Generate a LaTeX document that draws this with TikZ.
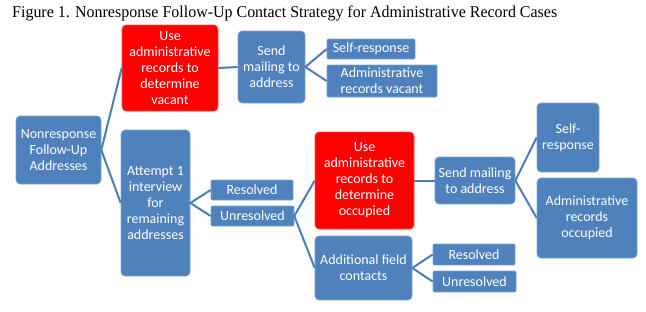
\documentclass[tikz,border=0pt]{standalone}
\usepackage{fontspec}
\usepackage{graphicx}
\usepackage{tikz}
\usetikzlibrary{positioning}
\newfontfamily\boxfont{Carlito}
\newfontfamily\capfont{Liberation Serif}
\definecolor{boxblue}{HTML}{4F81BD}
\definecolor{edgeblue}{HTML}{4A7EBB}
\definecolor{rimblue}{HTML}{7FA1CF}
\definecolor{recred}{HTML}{FF0000}

\begin{document}
\begin{tikzpicture}[x=1pt,y=-1pt,
  box/.style={fill=boxblue,draw=rimblue,line width=0.6pt,rounded corners=4pt,
    text=white,align=center,inner sep=0pt,
    font=\boxfont\fontsize{14}{16}\selectfont},
  bar/.style={box,rounded corners=1pt},
  redbox/.style={box,fill=recred,draw=recred!70!white},
  link/.style={draw=edgeblue,line width=2pt}]
  \useasboundingbox (0,0) rectangle (646,311);
  % title
  \node[anchor=base west,inner sep=0pt] (title) at (12,17)
    {\resizebox{545pt}{\height}{\capfont\fontsize{16.5}{18}\selectfont
     Figure 1. Nonresponse Follow-Up Contact Strategy for Administrative Record Cases}};
  % first level
  \node[box,minimum width=85pt,minimum height=68pt] (nrfu) at (58.5,150)
    {Nonresponse\\Follow-Up\\Addresses};
  % vacant branch
  \node[redbox,minimum width=96pt,minimum height=86pt] (vacrec) at (170,68)
    {Use\\administrative\\records to\\determine\\vacant};
  \node[box,minimum width=67pt,minimum height=72pt] (mailvac) at (271.5,67)
    {Send\\mailing to\\address};
  \node[bar,minimum width=88pt,minimum height=20pt] (selfvac) at (371,49)
    {Self-response};
  \node[bar,minimum width=110pt,minimum height=32pt] (advac) at (382,81)
    {Administrative\\records vacant};
  % interview branch
  \node[box,minimum width=69pt,minimum height=146pt] (attempt) at (155.5,203)
    {Attempt 1\\interview\\for\\remaining\\addresses};
  \node[bar,minimum width=82pt,minimum height=20pt] (resa) at (252,190)
    {Resolved};
  \node[bar,minimum width=83pt,minimum height=20pt] (unresa) at (252.5,216)
    {Unresolved};
  % occupied branch
  \node[redbox,minimum width=99pt,minimum height=97pt] (occrec) at (364.5,180.5)
    {Use\\administrative\\records to\\determine\\occupied};
  \node[box,minimum width=80pt,minimum height=47pt] (mailocc) at (475,180.5)
    {Send mailing\\to address};
  \node[box,minimum width=62pt,minimum height=69pt] (selfocc) at (568,137.5)
    {Self-\\response};
  \node[box,minimum width=100pt,minimum height=80pt] (adocc) at (587,218)
    {Administrative\\records\\occupied};
  % field contacts
  \node[box,minimum width=97pt,minimum height=64pt] (field) at (363.5,268)
    {Additional field\\contacts};
  \node[bar,minimum width=82pt,minimum height=21pt] (resb) at (474,254.5)
    {Resolved};
  \node[bar,minimum width=83pt,minimum height=21pt] (unresb) at (474.5,281.5)
    {Unresolved};
  % connectors
  \draw[link] (nrfu.east) -- (vacrec.west);
  \draw[link] (nrfu.east) -- (attempt.west);
  \draw[link] (vacrec.east) -- (mailvac.west);
  \draw[link] (mailvac.east) -- (selfvac.west);
  \draw[link] (mailvac.east) -- (advac.west);
  \draw[link] (attempt.east) -- (resa.west);
  \draw[link] (attempt.east) -- (unresa.west);
  \draw[link] (unresa.east) -- (occrec.west);
  \draw[link] (unresa.east) -- (field.west);
  \draw[link] (occrec.east) -- (mailocc.west);
  \draw[link] (mailocc.east) -- (selfocc.west);
  \draw[link] (mailocc.east) -- (adocc.west);
  \draw[link] (field.east) -- (resb.west);
  \draw[link] (field.east) -- (unresb.west);
\end{tikzpicture}
\end{document}
